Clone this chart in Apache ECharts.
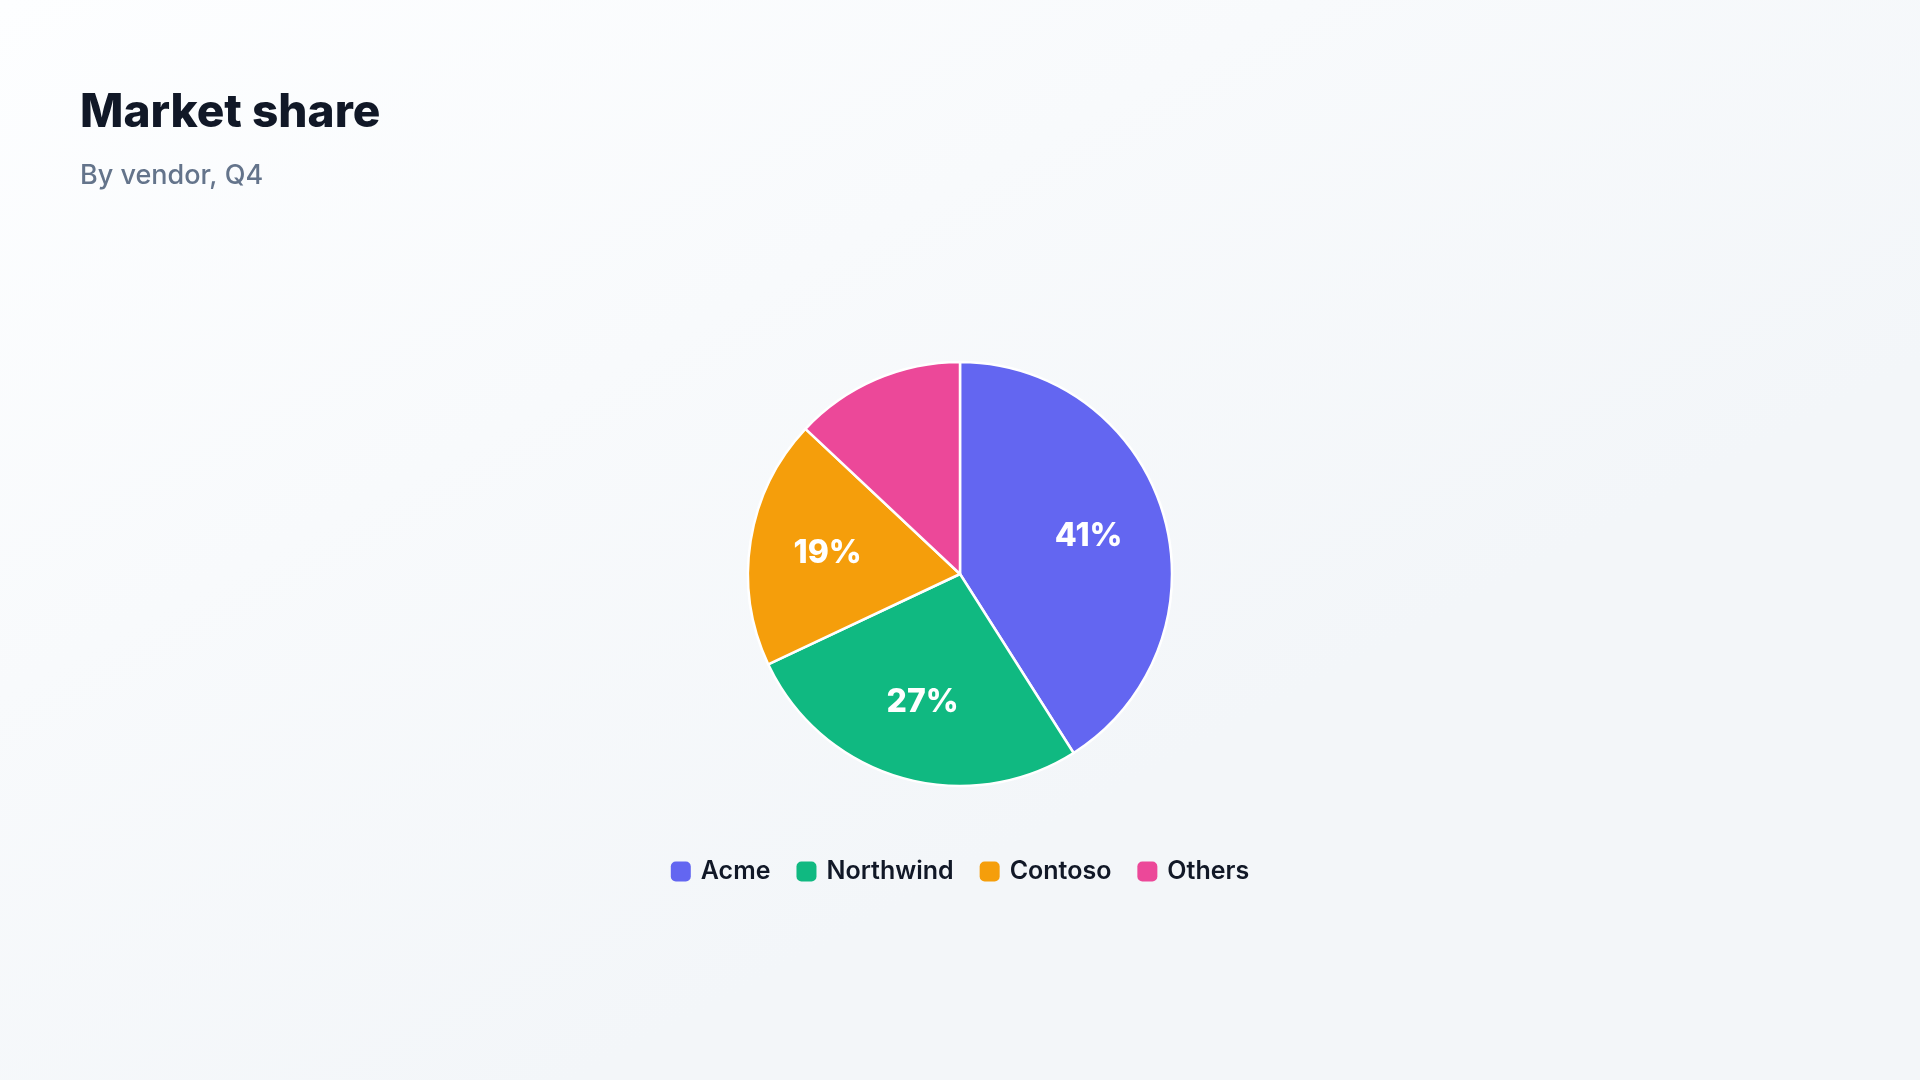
<!DOCTYPE html>
<html>
<head>
<meta charset="utf-8">
<title>Market share</title>
<script src="https://cdn.jsdelivr.net/npm/echarts@6/dist/echarts.min.js"></script>
<style>
  html, body { margin: 0; padding: 0; width: 100%; height: 100%; }
  #chart { width: 1920px; height: 1080px; }
</style>
</head>
<body>
<div id="chart"></div>
<script>
// data
var vendors = ["Acme", "Northwind", "Contoso", "Others"];
var shares = [41, 27, 19, 13];
var vendorColors = ["#6366f1", "#10b981", "#f59e0b", "#ec4899"];

(function () {
  var myChart = echarts.init(document.querySelector("#chart"));
  var pieData = vendors.map(function (name, i) {
    return { name: name, value: shares[i] };
  });
  var option = {
    backgroundColor: new echarts.graphic.LinearGradient(0, 0, 0.3, 1, [
      { offset: 0, color: "#fdfeff" },
      { offset: 1, color: "#f3f6f9" },
    ]),
    color: vendorColors,
    title: [
      {
        text: "Market share",
        left: 80,
        top: 90,
        padding: 0,
        textStyle: { fontFamily: "Inter", fontSize: 46, fontWeight: 800, color: "#111827" },
      },
      {
        text: "By vendor, Q4",
        left: 80,
        top: 162,
        padding: 0,
        textStyle: { fontFamily: "Inter", fontSize: 27, fontWeight: 500, color: "#64748b" },
      },
    ],
    legend: {
      data: vendors,
      left: "center",
      top: 854,
      icon: "roundRect",
      itemWidth: 20,
      itemHeight: 20,
      itemGap: 26,
      itemStyle: { borderWidth: 0 }, //图例不要继承扇区的白边
      textStyle: {
        fontFamily: "Inter",
        fontSize: 25,
        fontWeight: 600,
        color: "#111827",
        padding: [0, 0, 0, 5],
      },
    },
    series: [
      {
        name: "Market share",
        type: "pie",
        center: [960, 574],
        radius: [0, 212],
        startAngle: 90,
        clockwise: true,
        data: pieData,
        itemStyle: { borderColor: "#ffffff", borderWidth: 2.5 },
        label: { show: false },
        labelLine: { show: false },
      },
      //只用来放标签的透明环，小扇区不显示标签
      {
        name: "labels",
        type: "pie",
        center: [960, 574],
        radius: [50, 212],
        startAngle: 90,
        clockwise: true,
        silent: true,
        minShowLabelAngle: 50,
        data: pieData,
        itemStyle: { color: "transparent", borderWidth: 0 },
        label: {
          show: true,
          position: "inside",
          formatter: "{d}%",
          fontFamily: "Inter",
          fontSize: 32,
          fontWeight: 800,
          color: "#ffffff",
        },
        labelLine: { show: false },
      },
    ],
  };
  myChart.setOption(option);
})();
</script>
</body>
</html>
